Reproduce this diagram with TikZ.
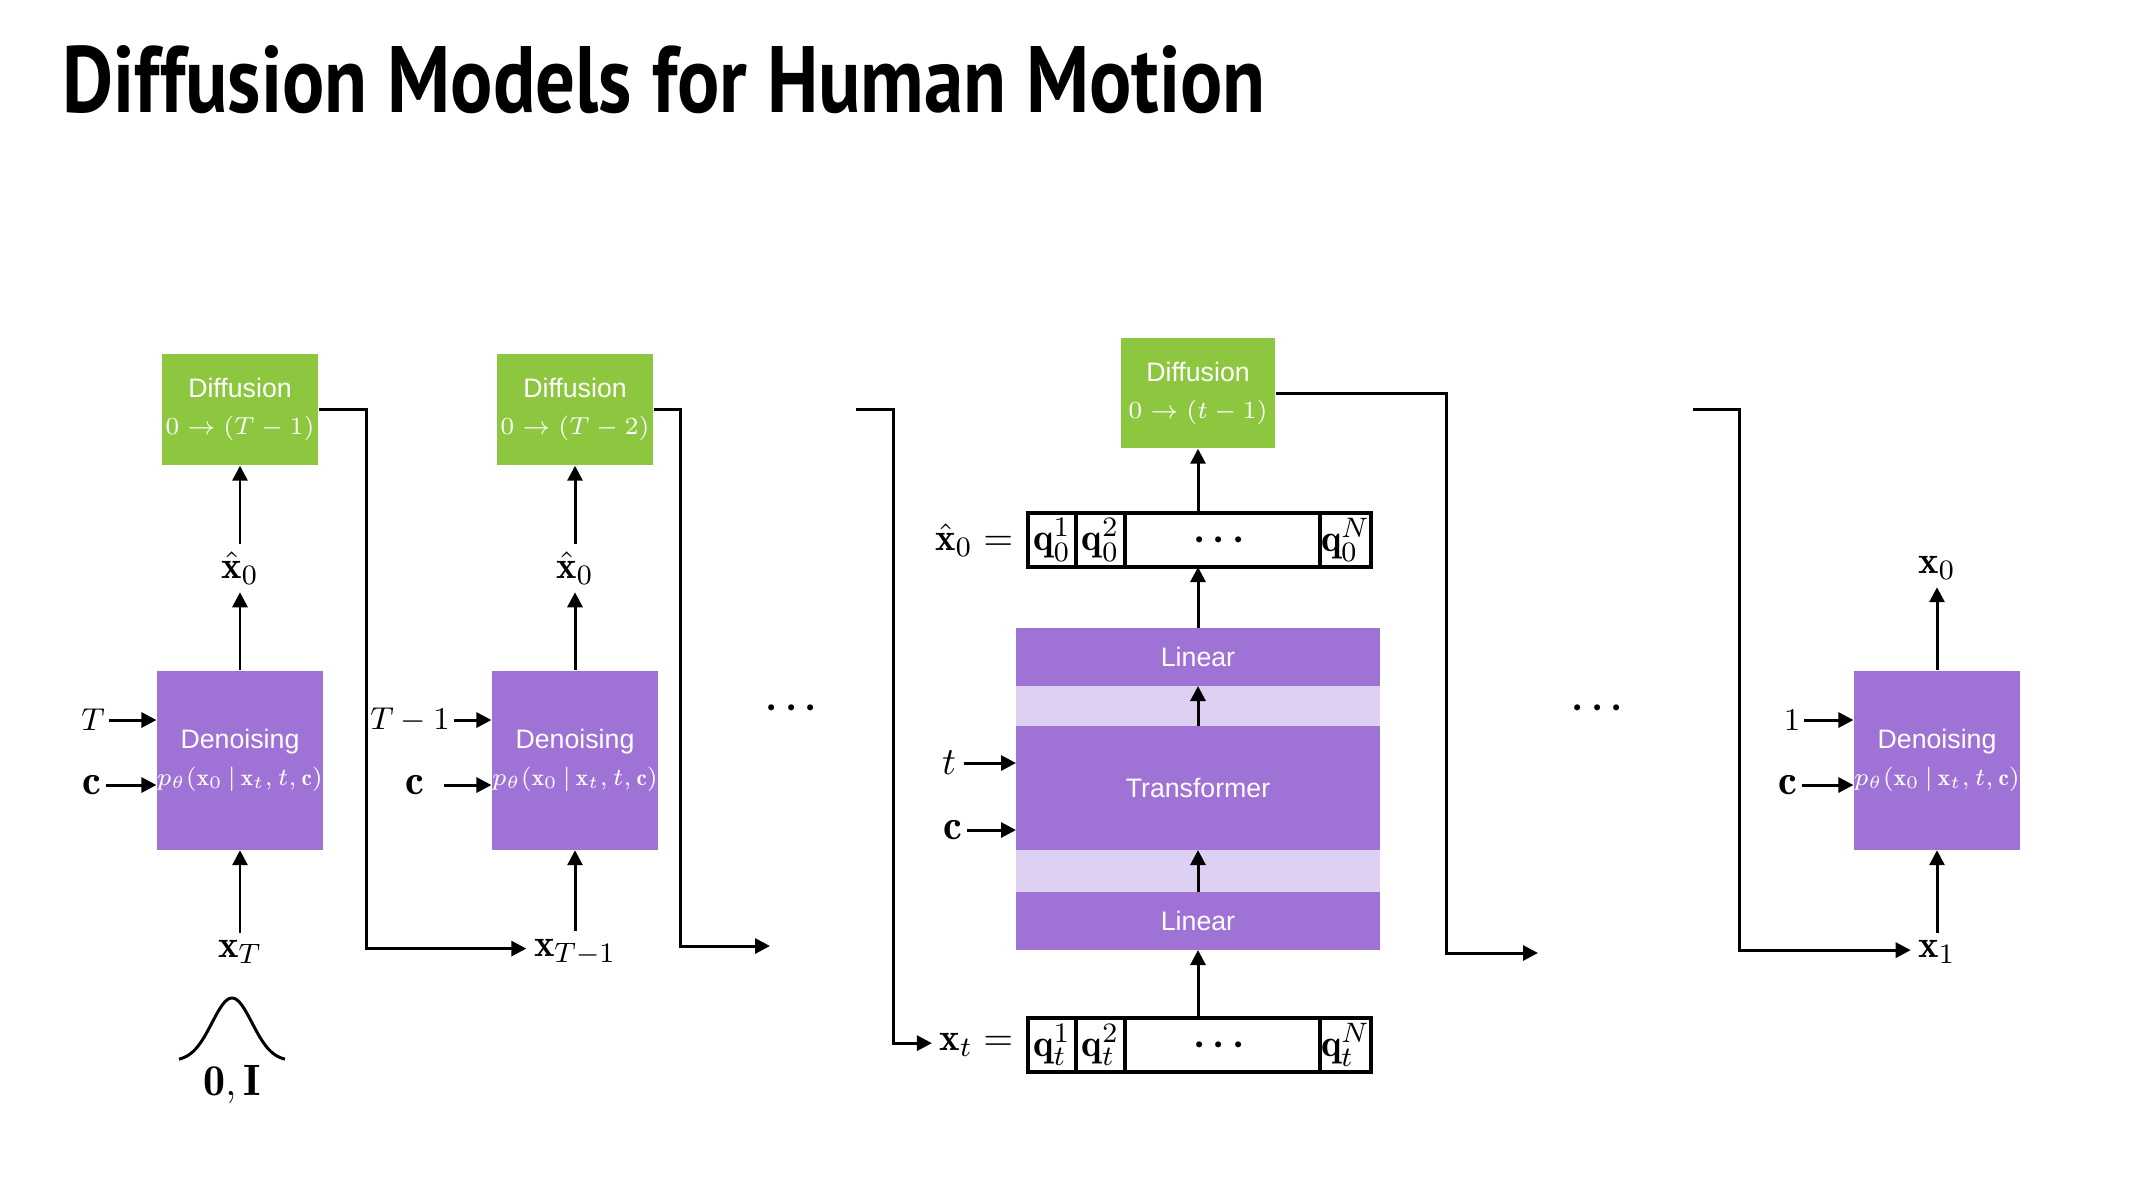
\documentclass[tikz,border=0pt]{standalone}
\usepackage{graphicx,amsmath}
\usepackage{fontspec}
\setsansfont{Liberation Sans}
\newfontfamily\titlefont{PT Sans}
\usetikzlibrary{calc,positioning,arrows.meta}
\definecolor{diffgreen}{RGB}{141,198,63}
\definecolor{denpurple}{RGB}{159,114,214}
\definecolor{bandpurple}{RGB}{222,208,242}
\newcommand{\boxmath}{\fontsize{6.6}{10.5}\selectfont}
\tikzstyle{diffusion} = [rectangle, fill=diffgreen, text=white, text centered, minimum width=1.56cm, minimum height=1.11cm, inner sep=0pt, font=\fontsize{7.6}{10.5}\selectfont\sffamily]
\tikzstyle{denoising} = [rectangle, fill=denpurple, text=white, text centered, minimum width=1.6cm, minimum height=1.79cm, inner sep=0pt, font=\fontsize{7.6}{10.5}\selectfont\sffamily]
\tikzstyle{layer} = [rectangle, fill=denpurple, text=white, text centered, minimum width=3.64cm, minimum height=0.58cm, outer sep=0pt, font=\fontsize{7.6}{10.5}\selectfont\sffamily]
\tikzstyle{band} = [rectangle, fill=bandpurple, minimum width=3.64cm, outer sep=0pt]
\tikzstyle{cell} = [rectangle, minimum height=0.54cm, inner sep=0pt, outer sep=0pt, font=\fontsize{11}{13}\selectfont]
\tikzstyle{rowline} = [line width=0.9pt]
\tikzstyle{var} = [inner sep=2pt, font=\fontsize{11}{13}\selectfont]
\tikzstyle{cond} = [inner sep=1pt, font=\fontsize{12}{14}\selectfont]
\tikzstyle{timestep} = [inner sep=1pt, font=\fontsize{9.5}{11}\selectfont]
\tikzstyle{connector} = [line width=0.85pt, -{Triangle[length=0.15cm, width=0.15cm]}]

\begin{document}
\begin{tikzpicture}[every text node part/.style={align=center}]
    \useasboundingbox (0,0) rectangle (21.33,-12);
    \node (title) [anchor=base west, inner sep=0pt] at (0.62,-1.12) {\resizebox{12.03cm}{0.67cm}{\titlefont\bfseries Diffusion Models for Human Motion}};
    % step T
    \node (denA) [denoising] at (2.40,-7.60) {Denoising\\ \boxmath $p_\theta(\mathbf{x}_0\,|\,\mathbf{x}_t, t, \mathbf{c})$};
    \node (xhatA) [var, above of = denA, yshift = 0.92cm] {$\hat{\mathbf{x}}_0$};
    \node (diffA) [diffusion, above of = xhatA, yshift = 0.585cm] {Diffusion\\ \boxmath $0 \rightarrow (T-1)$};
    \node (xTA) [var, below of = denA, yshift = -0.92cm] {$\mathbf{x}_T$};
    \node (tA) [timestep, left of = denA, xshift = -0.47cm, yshift = 0.40cm] {$T$};
    \node (cA) [cond, left of = denA, xshift = -0.48cm, yshift = -0.25cm] {$\mathbf{c}$};
    \node (zeroI) [cond, font=\fontsize{12.5}{14}\selectfont, below of = xTA, xshift = -0.08cm, yshift = -0.33cm] {$\mathbf{0}, \mathbf{I}$};
    \draw [line width=0.85pt] plot [domain=-0.53:0.53, samples=60, smooth] ({2.32+\x}, {-10.61+0.63*exp(-(\x*\x)/0.08)});
    % step T-1
    \node (denB) [denoising, right of = denA, xshift = 2.35cm] {Denoising\\ \boxmath $p_\theta(\mathbf{x}_0\,|\,\mathbf{x}_t, t, \mathbf{c})$};
    \node (xhatB) [var, above of = denB, yshift = 0.92cm] {$\hat{\mathbf{x}}_0$};
    \node (diffB) [diffusion, above of = xhatB, yshift = 0.585cm] {Diffusion\\ \boxmath $0 \rightarrow (T-2)$};
    \node (xTB) [var, below of = denB, yshift = -0.92cm] {$\mathbf{x}_{T-1}$};
    \node (tB) [timestep, left of = denB, xshift = -0.65cm, yshift = 0.40cm] {$T-1$};
    \node (cB) [cond, left of = denB, xshift = -0.60cm, yshift = -0.25cm] {$\mathbf{c}$};
    \node (dotsA) [var, right of = denB, xshift = 1.20cm, yshift = 0.52cm] {$\boldsymbol{\cdots}$};
    % step t
    \node (trans) [layer, minimum height=1.24cm, right of = denB, xshift = 5.23cm, yshift = -0.28cm] {Transformer};
    \node (band1) [band, minimum height=0.40cm, above of = trans, yshift = -0.18cm] {};
    \node (linT) [layer, above of = band1, yshift = -0.51cm] {Linear};
    \node (band2) [band, minimum height=0.42cm, below of = trans, yshift = 0.17cm] {};
    \node (linB) [layer, below of = band2, yshift = 0.50cm] {Linear};
    \node (q03) [cell, minimum width=1.95cm, above of = linT, xshift = 0.245cm, yshift = 0.17cm] {$\boldsymbol{\cdots}$};
    \node (q02) [cell, minimum width=0.49cm, left of = q03, xshift = -0.22cm] {$\mathbf{q}_0^2$};
    \node (q01) [cell, minimum width=0.48cm, left of = q02, xshift = 0.515cm] {$\mathbf{q}_0^1$};
    \node (q04) [cell, minimum width=0.51cm, right of = q03, xshift = 0.23cm] {$\mathbf{q}_0^N$};
    \draw [rowline] (q01.north west) rectangle (q04.south east);
    \draw [rowline] (q01.north east) -- (q01.south east);
    \draw [rowline] (q02.north east) -- (q02.south east);
    \draw [rowline] (q03.north east) -- (q03.south east);
    \node (xhatLab) [var, left = 2pt of q01] {$\hat{\mathbf{x}}_0 =$};
    \node (qt3) [cell, minimum width=1.95cm, below of = linB, xshift = 0.245cm, yshift = -0.24cm] {$\boldsymbol{\cdots}$};
    \node (qt2) [cell, minimum width=0.49cm, left of = qt3, xshift = -0.22cm] {$\mathbf{q}_t^2$};
    \node (qt1) [cell, minimum width=0.48cm, left of = qt2, xshift = 0.515cm] {$\mathbf{q}_t^1$};
    \node (qt4) [cell, minimum width=0.51cm, right of = qt3, xshift = 0.23cm] {$\mathbf{q}_t^N$};
    \draw [rowline] (qt1.north west) rectangle (qt4.south east);
    \draw [rowline] (qt1.north east) -- (qt1.south east);
    \draw [rowline] (qt2.north east) -- (qt2.south east);
    \draw [rowline] (qt3.north east) -- (qt3.south east);
    \node (xtLab) [var, left = 2pt of qt1] {$\mathbf{x}_t =$};
    \node (diffC) [diffusion, minimum width=1.54cm, minimum height=1.10cm, above of = q03, xshift = -0.245cm, yshift = 0.47cm] {Diffusion\\ \boxmath $0 \rightarrow (t-1)$};
    \node (tC) [var, left of = trans, xshift = -1.49cm, yshift = 0.25cm] {$t$};
    \node (cC) [cond, left of = trans, xshift = -1.45cm, yshift = -0.42cm] {$\mathbf{c}$};
    \node (dotsB) [var, right of = trans, xshift = 3.03cm, yshift = 0.80cm] {$\boldsymbol{\cdots}$};
    % step 1
    \node (denD) [denoising, right of = trans, xshift = 6.39cm, yshift = 0.28cm] {Denoising\\ \boxmath $p_\theta(\mathbf{x}_0\,|\,\mathbf{x}_t, t, \mathbf{c})$};
    \node (x0D) [var, above of = denD, yshift = 0.92cm] {$\mathbf{x}_0$};
    \node (x1D) [var, below of = denD, yshift = -0.92cm] {$\mathbf{x}_1$};
    \node (oneD) [timestep, left of = denD, xshift = -0.45cm, yshift = 0.40cm] {$1$};
    \node (cD) [cond, left of = denD, xshift = -0.49cm, yshift = -0.25cm] {$\mathbf{c}$};
    \coordinate (endB) at (7.70,-9.46);
    \coordinate (startC) at (8.56,-4.09);
    \coordinate (endC) at (15.38,-9.53);
    \coordinate (startD) at (16.93,-4.09);
    \draw [connector] (xTA) -- (denA);
    \draw [connector] (denA) -- (xhatA);
    \draw [connector] (xhatA) -- (diffA);
    \draw [connector] (tA) -- (tA -| denA.west);
    \draw [connector] (cA) -- (cA -| denA.west);
    \draw [connector] (diffA.east) -- ($(diffA.east)+(0.48cm,0)$) |- (xTB.mid west);
    \draw [connector] (xTB) -- (denB);
    \draw [connector] (denB) -- (xhatB);
    \draw [connector] (xhatB) -- (diffB);
    \draw [connector] (tB) -- (tB -| denB.west);
    \draw [connector, shorten <= 0.15cm] (cB) -- (cB -| denB.west);
    \draw [connector] (diffB.east) -- ($(diffB.east)+(0.27cm,0)$) |- (endB);
    \draw [connector] (startC) -- ($(startC)+(0.37cm,0)$) |- (xtLab.mid west);
    \draw [connector] (linB |- qt3.north) -- (linB);
    \draw [connector] (linB) -- (trans);
    \draw [connector] (trans) -- (linT);
    \draw [connector] (linT) -- (linT |- q03.south);
    \draw [connector] (linT |- q03.north) -- (diffC);
    \draw [connector] (tC) -- (tC -| trans.west);
    \draw [connector] (cC) -- (cC -| trans.west);
    \draw [connector] (diffC.east) -- ($(diffC.east)+(1.71cm,0)$) |- (endC);
    \draw [connector] (startD) -- ($(startD)+(0.46cm,0)$) |- (x1D.mid west);
    \draw [connector] (x1D) -- (denD);
    \draw [connector] (denD) -- (x0D);
    \draw [connector] (oneD) -- (oneD -| denD.west);
    \draw [connector] (cD) -- (cD -| denD.west);
\end{tikzpicture}
\end{document}
